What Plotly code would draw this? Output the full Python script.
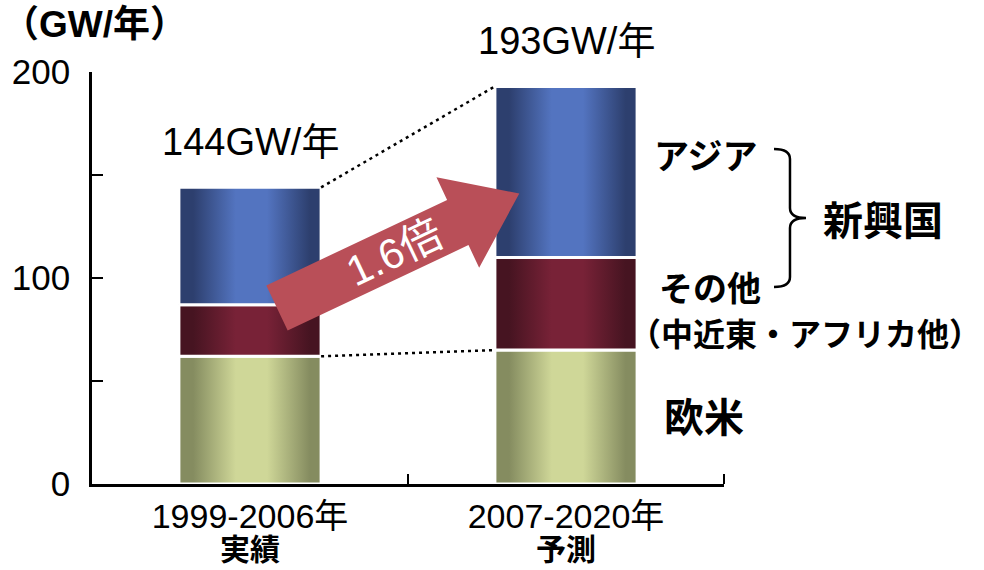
import math
import plotly.graph_objects as go

# ---- data -------------------------------------------------------------
categories = ["1999-2006年", "2007-2020年"]
category_notes = ["実績", "予測"]
europe_us = [62, 65]      # 欧米
other = [25, 45]          # その他（中近東・アフリカ他）
asia = [57, 83]           # アジア
total_labels = ["144GW/年", "193GW/年"]
growth_label = "1.6倍"
y_tick_vals = [0, 100, 200]
y_tick_text = ["0", "100", "200"]

# ---- figure geometry --------------------------------------------------
W, H = 984, 570
MARGIN = dict(l=92, r=260, t=72, b=86, pad=0)
PW = W - MARGIN["l"] - MARGIN["r"]
PH = H - MARGIN["t"] - MARGIN["b"]
BAR_WIDTH = 0.45

LATIN = "Liberation Sans, Noto Sans CJK JP, sans-serif"
CJK = "Noto Sans CJK JP, sans-serif"


def to_paper(xpx, ypx):
    """Figure pixel position -> paper coordinates."""
    return (xpx - MARGIN["l"]) / PW, (H - MARGIN["b"] - ypx) / PH


def shade(dark, light):
    return [[0.0, dark], [0.1, dark], [0.4, light], [0.62, light], [0.92, dark], [1.0, dark]]


GREEN = shade("rgb(133,140,96)", "rgb(207,215,152)")
MAROON = shade("rgb(70,20,33)", "rgb(120,34,55)")
BLUE = shade("rgb(45,63,110)", "rgb(83,116,192)")

fig = go.Figure()

# ---- stacked bars with horizontal shading ----------------------------
stack = [("欧米", europe_us, GREEN), ("その他", other, MAROON), ("アジア", asia, BLUE)]
base = [0.0 for _ in categories]
for name, values, scale in stack:
    for i, v in enumerate(values):
        x0, x1 = i - BAR_WIDTH / 2, i + BAR_WIDTH / 2
        y0, y1 = base[i], base[i] + v
        fig.add_trace(go.Scatter(
            x=[x0, x1, x1, x0, x0], y=[y0, y0, y1, y1, y0],
            mode="lines", fill="toself",
            fillgradient=dict(type="horizontal", colorscale=scale),
            line=dict(color="white", width=3),
            name=name, hoverinfo="skip", showlegend=False,
        ))
        base[i] += v

# ---- dotted connectors between the two bars ----------------------------
totals = [e + o + a for e, o, a in zip(europe_us, other, asia)]
for left_y, right_y in [(totals[0], totals[1]), (europe_us[0], europe_us[1])]:
    fig.add_trace(go.Scatter(
        x=[0 + BAR_WIDTH / 2, 1 - BAR_WIDTH / 2], y=[left_y, right_y],
        mode="lines", line=dict(color="black", width=2.5, dash="3px,4px"),
        hoverinfo="skip", showlegend=False,
    ))

annotations = []

# totals above each bar
for i, (t, lab) in enumerate(zip(totals, total_labels)):
    annotations.append(dict(
        x=i, y=t, xref="x", yref="y", text=lab, showarrow=False,
        yanchor="bottom", yshift=22, font=dict(family=LATIN, size=38, color="black"),
    ))

# second line of the category labels
for i, note in enumerate(category_notes):
    annotations.append(dict(
        x=i, y=to_paper(0, 547)[1], xref="x", yref="paper", text=note,
        showarrow=False, yanchor="middle",
        font=dict(family=CJK, size=30, color="black", weight="bold"),
    ))

# unit label
ux, uy = to_paper(0, 25)
annotations.append(dict(
    x=ux, y=uy, xref="paper", yref="paper", text="（GW/年）", showarrow=False,
    xanchor="left", yanchor="middle",
    font=dict(family=LATIN, size=37, color="black", weight="bold"),
))

# region labels on the right
for text, xpx, ypx, size in [
    ("アジア", 706, 153, 35),
    ("その他", 710, 286, 34),
    ("（中近東・アフリカ他）", 805, 332, 32),
    ("欧米", 704, 415, 40),
    ("新興国", 883, 218, 40),
]:
    px, py = to_paper(xpx, ypx)
    annotations.append(dict(
        x=px, y=py, xref="paper", yref="paper", text=text, showarrow=False,
        xanchor="center", yanchor="middle",
        font=dict(family=CJK, size=size, color="black", weight="bold"),
    ))

# growth arrow label
gx, gy = to_paper(394, 252)
annotations.append(dict(
    x=gx, y=gy, xref="paper", yref="paper", text=growth_label, showarrow=False,
    textangle=-25.3, xanchor="center", yanchor="middle",
    font=dict(family=LATIN, size=42, color="white"),
))

# ---- shapes: growth arrow and brace ----------------------------------
def arrow_path(tail, angle_deg, length, shaft_w, head_w, head_len):
    a = math.radians(angle_deg)
    ux_, uy_ = math.cos(a), -math.sin(a)      # along arrow (screen y down)
    nx, ny = -uy_, ux_                        # normal
    tx, ty = tail
    neck = length - head_len
    pts = [
        (tx + nx * shaft_w / 2, ty + ny * shaft_w / 2),
        (tx + ux_ * neck + nx * shaft_w / 2, ty + uy_ * neck + ny * shaft_w / 2),
        (tx + ux_ * neck + nx * head_w / 2, ty + uy_ * neck + ny * head_w / 2),
        (tx + ux_ * length, ty + uy_ * length),
        (tx + ux_ * neck - nx * head_w / 2, ty + uy_ * neck - ny * head_w / 2),
        (tx + ux_ * neck - nx * shaft_w / 2, ty + uy_ * neck - ny * shaft_w / 2),
        (tx - nx * shaft_w / 2, ty - ny * shaft_w / 2),
    ]
    pp = [to_paper(x, y) for x, y in pts]
    return "M " + " L ".join(f"{x:.4f},{y:.4f}" for x, y in pp) + " Z"


shapes = [dict(
    type="path", xref="paper", yref="paper",
    path=arrow_path((277, 308), 25.3, 268, 50, 100, 68),
    fillcolor="rgb(185,79,88)", line=dict(width=0), layer="above",
)]


def brace_path(x_left, y_top, y_bot, depth, tip):
    ym = (y_top + y_bot) / 2
    xm = x_left + depth
    r = 10
    seg = [
        ("M", [(x_left, y_top)]),
        ("Q", [(xm, y_top), (xm, y_top + r)]),
        ("L", [(xm, ym - r)]),
        ("Q", [(xm, ym), (x_left + tip, ym)]),
        ("Q", [(xm, ym), (xm, ym + r)]),
        ("L", [(xm, y_bot - r)]),
        ("Q", [(xm, y_bot), (x_left, y_bot)]),
    ]
    out = []
    for cmd, pts in seg:
        pp = [to_paper(x, y) for x, y in pts]
        out.append(cmd + " " + " ".join(f"{x:.4f},{y:.4f}" for x, y in pp))
    return " ".join(out)


shapes.append(dict(
    type="path", xref="paper", yref="paper",
    path=brace_path(774, 149, 287, 16, 32),
    line=dict(color="black", width=2.5), fillcolor="rgba(0,0,0,0)",
))

# ---- layout ------------------------------------------------------------
fig.update_layout(
    width=W, height=H, margin=MARGIN,
    paper_bgcolor="white", plot_bgcolor="white",
    showlegend=False,
    annotations=annotations, shapes=shapes,
    xaxis=dict(
        range=[-0.5, 1.5], tickmode="array", tickvals=[0, 1], ticktext=categories,
        ticks="", showgrid=False, zeroline=False, automargin=False,
        showline=True, linecolor="black", linewidth=2.5,
        tickfont=dict(family=LATIN, size=34, color="black"),
        ticklabelstandoff=0,
        minor=dict(tickmode="array", tickvals=[0.5, 1.5], ticks="inside",
                   ticklen=10, tickwidth=2, tickcolor="black"),
        fixedrange=True,
    ),
    yaxis=dict(
        range=[0, 200], tickmode="array", tickvals=y_tick_vals, ticktext=y_tick_text,
        ticks="inside", ticklen=11, tickwidth=2, tickcolor="black",
        showgrid=False, zeroline=False, automargin=False,
        showline=True, linecolor="black", linewidth=2.5,
        tickfont=dict(family=LATIN, size=35, color="black"),
        ticklabelstandoff=12,
        minor=dict(tickmode="array", tickvals=[50, 150], ticks="inside",
                   ticklen=11, tickwidth=2, tickcolor="black"),
        fixedrange=True,
    ),
)

fig.write_html("out.html")
